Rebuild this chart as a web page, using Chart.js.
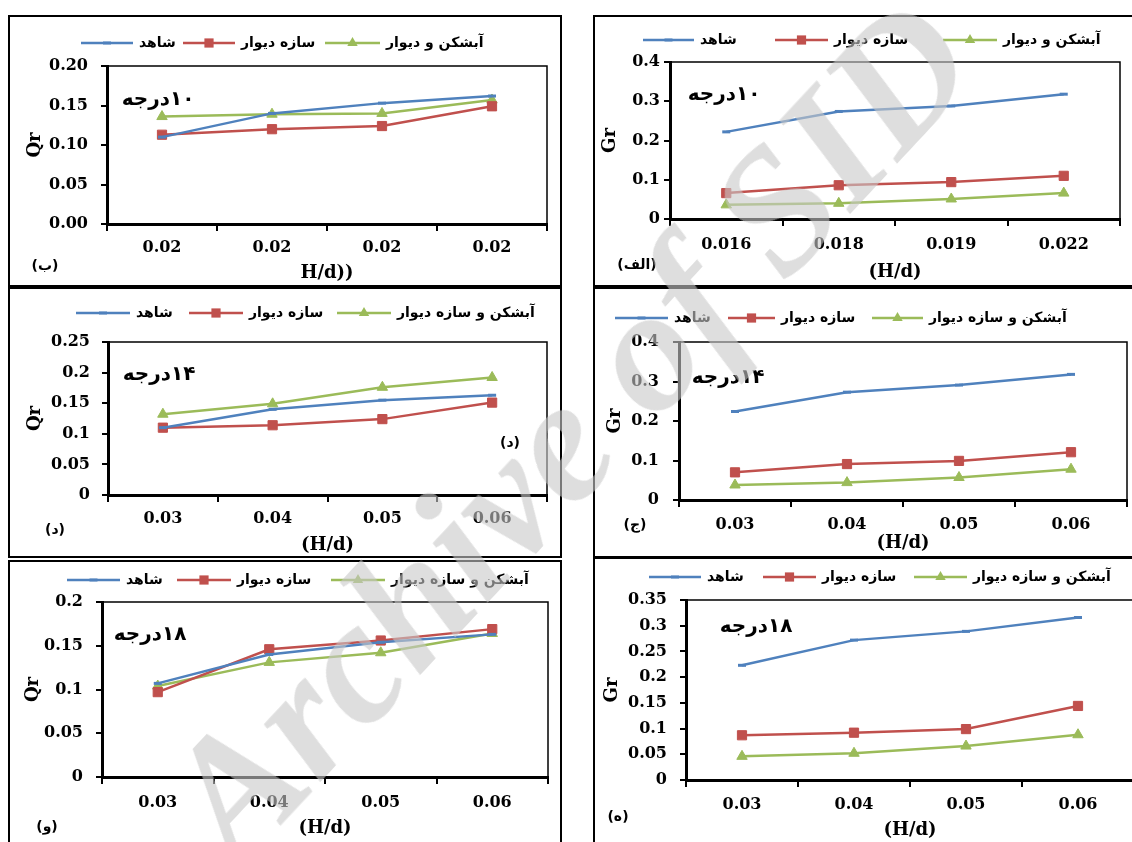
<!DOCTYPE html>
<html>
<head>
<meta charset="utf-8">
<script src="https://cdn.jsdelivr.net/npm/chart.js@4.4.0/dist/chart.umd.min.js"></script>
<style>
  body { margin: 0; background: #fff; width: 1132px; height: 842px; overflow: hidden; position: relative; }
  .panel { position: absolute; border: 2px solid #000; box-sizing: border-box; }
  canvas { position: absolute; }
  #wm {
    position: absolute; left: 568px; top: 430px; transform: translate(-50%, -50%) rotate(-47deg);
    font: italic bold 176px "Liberation Serif", serif; color: rgba(200,200,200,0.6);
    white-space: nowrap; pointer-events: none; z-index: 10;
  }
</style>
</head>
<body>
<div id="wm">Archive of SID</div>
<script>
// categories / tick labels
const hdLabels = ["0.03", "0.04", "0.05", "0.06"];
const hdLabelsGr10 = ["0.016", "0.018", "0.019", "0.022"];
const hdLabelsQr10 = ["0.02", "0.02", "0.02", "0.02"];
const namesA = ["شاهد", "سازه دیوار", "آبشکن و دیوار"];
const namesB = ["شاهد", "سازه دیوار", "آبشکن و سازه دیوار"];
const qrTicks10 = ["0.00", "0.05", "0.10", "0.15", "0.20"];
const qrTicks14 = ["0", "0.05", "0.1", "0.15", "0.2", "0.25"];
const qrTicks18 = ["0", "0.05", "0.1", "0.15", "0.2"];
const grTicks = ["0", "0.1", "0.2", "0.3", "0.4"];
const grTicks18 = ["0", "0.05", "0.1", "0.15", "0.2", "0.25", "0.3", "0.35"];

// 10 degree
const gr10Control = [0.222, 0.274, 0.288, 0.318];
const gr10Wall = [0.066, 0.086, 0.094, 0.110];
const gr10Groyne = [0.036, 0.040, 0.051, 0.066];
const qr10Control = [0.110, 0.140, 0.153, 0.162];
const qr10Wall = [0.113, 0.120, 0.124, 0.149];
const qr10Groyne = [0.136, 0.139, 0.140, 0.157];
// 14 degree
const gr14Control = [0.224, 0.273, 0.291, 0.318];
const gr14Wall = [0.070, 0.091, 0.099, 0.121];
const gr14Groyne = [0.038, 0.044, 0.057, 0.078];
const qr14Control = [0.110, 0.140, 0.155, 0.163];
const qr14Wall = [0.110, 0.114, 0.124, 0.151];
const qr14Groyne = [0.132, 0.149, 0.176, 0.192];
// 18 degree
const gr18Control = [0.223, 0.272, 0.289, 0.316];
const gr18Wall = [0.087, 0.092, 0.099, 0.144];
const gr18Groyne = [0.046, 0.052, 0.066, 0.088];
const qr18Control = [0.107, 0.140, 0.154, 0.163];
const qr18Wall = [0.097, 0.146, 0.156, 0.169];
const qr18Groyne = [0.104, 0.131, 0.142, 0.164];

const COLORS = ["#4F81BD", "#C0504D", "#9BBB59"];
const STYLES = ["line", "rect", "triangle"];
const RADII = [4, 6.5, 6];
const SERIF = "'DejaVu Serif', 'Liberation Serif', serif";
const SANS = "'DejaVu Sans', sans-serif";
const LH = 18 * 1.2;

const panels = [
  { box: [8, 15, 554, 272], plot: [107, 66, 547, 224], labels: hdLabelsQr10, series: [qr10Control, qr10Wall, qr10Groyne], names: namesA,
    yMax: 0.2, yStep: 0.05, yTicks: qrTicks10, yTitle: "Qr", yTitleX: 35, yPad: 13, xTitle: "H/d))", xTitleY: 273, xLabelY: 248,
    legY: 43, legLines: [[81, 133], [183, 235], [325, 380]], note: ["۱۰درجه", 158, 100], letters: [["(ب)", 45, 266]] },
  { box: [593, 15, 560, 272], plot: [670, 62, 1120, 219], labels: hdLabelsGr10, series: [gr10Control, gr10Wall, gr10Groyne], names: namesA,
    yMax: 0.4, yStep: 0.1, yTicks: grTicks, yTitle: "Gr", yTitleX: 610, yPad: 4, xTitle: "(H/d)", xTitleY: 272, xLabelY: 245,
    legY: 40, legLines: [[643, 694], [775, 828], [943, 997]], note: ["۱۰درجه", 724, 95], letters: [["(الف)", 637, 265]] },
  { box: [8, 287, 554, 271], plot: [108, 342, 547, 495], labels: hdLabels, series: [qr14Control, qr14Wall, qr14Groyne], names: namesB,
    yMax: 0.25, yStep: 0.05, yTicks: qrTicks14, yTitle: "Qr", yTitleX: 35, yPad: 12, xTitle: "(H/d)", xTitleY: 545, xLabelY: 519,
    legY: 313, legLines: [[76, 130], [189, 243], [337, 391]], note: ["۱۴درجه", 159, 375], letters: [["(د)", 55, 530], ["(د)", 510, 443]] },
  { box: [593, 287, 560, 271], plot: [679, 342, 1127, 500], labels: hdLabels, series: [gr14Control, gr14Wall, gr14Groyne], names: namesB,
    yMax: 0.4, yStep: 0.1, yTicks: grTicks, yTitle: "Gr", yTitleX: 615, yPad: 14, xTitle: "(H/d)", xTitleY: 543, xLabelY: 525,
    legY: 318, legLines: [[615, 668], [728, 775], [872, 923]], note: ["۱۴درجه", 728, 378], letters: [["(ج)", 635, 525]] },
  { box: [8, 560, 554, 300], plot: [102, 602, 548, 777], labels: hdLabels, series: [qr18Control, qr18Wall, qr18Groyne], names: namesB,
    yMax: 0.2, yStep: 0.05, yTicks: qrTicks18, yTitle: "Qr", yTitleX: 33, yPad: 13, xTitle: "(H/d)", xTitleY: 828, xLabelY: 803,
    legY: 580, legLines: [[67, 120], [177, 231], [331, 385]], note: ["۱۸درجه", 150, 635], letters: [["(و)", 47, 827]] },
  { box: [593, 557, 560, 300], plot: [686, 600, 1134, 780], labels: hdLabels, series: [gr18Control, gr18Wall, gr18Groyne], names: namesB,
    yMax: 0.35, yStep: 0.05, yTicks: grTicks18, yTitle: "Gr", yTitleX: 612, yPad: 13, xTitle: "(H/d)", xTitleY: 830, xLabelY: 805,
    legY: 577, legLines: [[649, 701], [763, 816], [914, 967]], note: ["۱۸درجه", 756, 627], letters: [["(ه)", 618, 817]] }
];

function marker(ctx, i, x, y) {
  ctx.fillStyle = COLORS[i];
  ctx.strokeStyle = COLORS[i];
  if (i === 0) {
    ctx.lineWidth = 3;
    ctx.beginPath(); ctx.moveTo(x - 4, y); ctx.lineTo(x + 4, y); ctx.stroke();
  } else if (i === 1) {
    ctx.fillRect(x - 4.6, y - 4.6, 9.2, 9.2);
  } else {
    ctx.beginPath(); ctx.moveTo(x, y - 6); ctx.lineTo(x + 5.2, y + 3); ctx.lineTo(x - 5.2, y + 3); ctx.closePath(); ctx.fill();
  }
}

function makePanel(p) {
  const [bx, by, bw, bh] = p.box;
  const div = document.createElement("div");
  div.className = "panel";
  Object.assign(div.style, { left: bx + "px", top: by + "px", width: bw + "px", height: bh + "px" });
  document.body.appendChild(div);

  const cv = document.createElement("canvas");
  cv.width = bw; cv.height = bh;
  cv.style.left = bx + "px"; cv.style.top = by + "px";
  document.body.appendChild(cv);

  const l = p.plot[0] - bx, t = p.plot[1] - by, r = p.plot[2] - bx, b = p.plot[3] - by;
  const hx = p.xTitleY - p.plot[3] + LH / 2;

  const extras = {
    id: "extras",
    beforeDatasetsDraw(chart) {
      const a = chart.chartArea, ctx = chart.ctx;
      ctx.save();
      ctx.strokeStyle = "#000"; ctx.lineWidth = 1.5;
      ctx.strokeRect(a.left, a.top, a.right - a.left, a.bottom - a.top);
      ctx.restore();
    },
    afterDraw(chart) {
      const ctx = chart.ctx;
      ctx.save();
      // legend: line + marker + text
      p.legLines.forEach(([x1, x2], i) => {
        const y = p.legY - by;
        ctx.strokeStyle = COLORS[i]; ctx.lineWidth = 2.5;
        ctx.beginPath(); ctx.moveTo(x1 - bx, y); ctx.lineTo(x2 - bx, y); ctx.stroke();
        marker(ctx, i, (x1 + x2) / 2 - bx, y);
        ctx.fillStyle = "#000";
        ctx.font = "bold 14px " + SANS;
        ctx.textAlign = "left"; ctx.textBaseline = "middle";
        ctx.fillText(p.names[i], x2 - bx + 6, y);
      });
      // degree note
      ctx.direction = "rtl";
      ctx.font = "bold 20px " + SANS;
      ctx.textAlign = "center"; ctx.textBaseline = "middle";
      ctx.fillStyle = "#000";
      ctx.fillText(p.note[0], p.note[1] - bx, p.note[2] - by);
      ctx.font = "bold 14px " + SANS;
      p.letters.forEach(([s, x, y]) => ctx.fillText(s, x - bx, y - by));
      ctx.restore();
    }
  };

  new Chart(cv, {
    type: "line",
    data: {
      labels: p.labels,
      datasets: p.series.map((d, i) => ({
        label: p.names[i], data: d,
        borderColor: COLORS[i], backgroundColor: COLORS[i],
        pointStyle: STYLES[i], pointRadius: RADII[i],
        pointBorderColor: COLORS[i], pointBackgroundColor: COLORS[i],
        pointBorderWidth: i === 0 ? 3 : 1, borderWidth: 2.5, tension: 0
      }))
    },
    options: {
      responsive: false, animation: false, events: [],
      layout: { padding: { left: 0, top: t, right: bw - r, bottom: bh - b - hx } },
      plugins: { legend: { display: false }, tooltip: { enabled: false } },
      scales: {
        x: {
          offset: true,
          grid: { display: true, offset: true, drawOnChartArea: false, tickLength: 7, lineWidth: 2, color: "#000" },
          border: { display: true, color: "#000", width: 3 },
          ticks: { color: "#000", font: { family: SERIF, weight: "bold", size: 16 }, padding: p.xLabelY - p.plot[3] - 7 - 9.6, maxRotation: 0, autoSkip: false },
          title: { display: true, text: p.xTitle, color: "#000", font: { family: SERIF, weight: "bold", size: 18 }, padding: 0 },
          afterFit: s => { s.height = hx; }
        },
        y: {
          min: 0, max: p.yMax,
          grid: { display: true, drawOnChartArea: false, tickLength: 6, lineWidth: 2, color: "#000" },
          border: { display: true, color: "#000", width: 3 },
          ticks: { stepSize: p.yStep, color: "#000", font: { family: SERIF, weight: "bold", size: 16 }, padding: p.yPad, callback: (v, i) => p.yTicks[i] },
          title: { display: true, text: p.yTitle, color: "#000", font: { family: SERIF, weight: "bold", size: 18 }, padding: { top: p.yTitleX - bx - LH / 2, bottom: 0 } },
          afterFit: s => { s.width = l; }
        }
      }
    },
    plugins: [extras]
  });
}

panels.forEach(makePanel);
</script>
</body>
</html>
